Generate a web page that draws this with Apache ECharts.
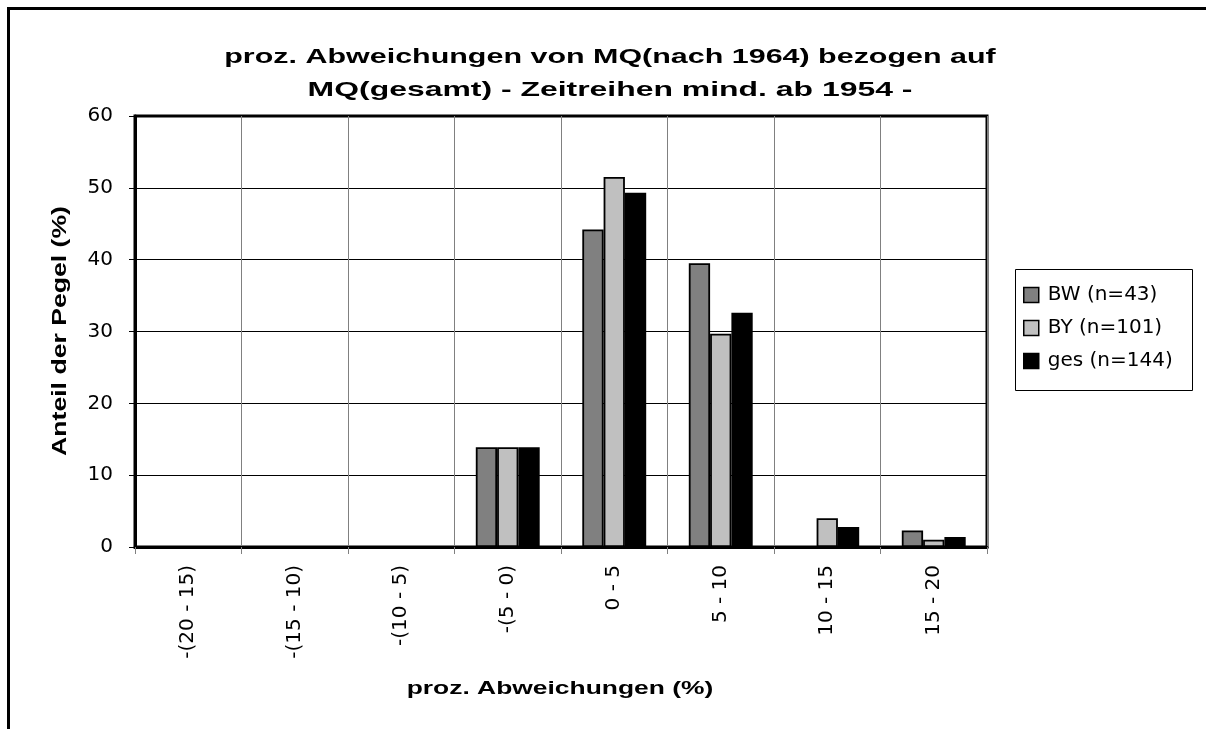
<!DOCTYPE html>
<html>
<head>
<meta charset="utf-8">
<script src="https://cdn.jsdelivr.net/npm/echarts@6/dist/echarts.min.js"></script>
<style>
html,body{margin:0;padding:0;background:#fff;}
#chart{width:1206px;height:729px;}
</style>
</head>
<body>
<div id="chart"></div>
<script>
var categories = ['-(20 - 15)', '-(15 - 10)', '-(10 - 5)', '-(5 - 0)', '0 - 5', '5 - 10', '10 - 15', '15 - 20'];
var seriesNames = ['BW (n=43)', 'BY (n=101)', 'ges (n=144)'];
var valuesBW  = [0, 0, 0, 13.9, 44.2, 39.5, 0, 2.3];
var valuesBY  = [0, 0, 0, 13.9, 51.5, 29.7, 4.0, 1.0];
var valuesGes = [0, 0, 0, 13.9, 49.3, 32.6, 2.8, 1.4];
var yTicks = { min: 0, max: 60, interval: 10 };
var titleLines = ['proz. Abweichungen von MQ(nach 1964) bezogen auf', 'MQ(gesamt) - Zeitreihen mind. ab 1954 -'];
var xAxisName = 'proz. Abweichungen (%)';
var yAxisName = 'Anteil der Pegel (%)';
var colors = ['#808080', '#c0c0c0', '#000000'];

var FONT = '"Liberation Sans", Arial, sans-serif';
var FONT_REG = '"DejaVu Sans", sans-serif';
var chart = echarts.init(document.getElementById('chart'), null, { renderer: 'canvas' });

function barSeries(name, data, color) {
  return {
    name: name,
    type: 'bar',
    data: data,
    barGap: '0%',
    barCategoryGap: '40%',
    itemStyle: { color: color, borderColor: '#000', borderWidth: 1.8 },
    emphasis: { disabled: true },
    animation: false
  };
}

var option = {
  animation: false,
  backgroundColor: '#fff',
  textStyle: { fontFamily: FONT_REG },
  grid: {
    left: 135, right: 219, top: 116, bottom: 182,
    show: true, borderColor: '#000', borderWidth: 3, backgroundColor: '#fff'
  },
  legend: {
    orient: 'vertical',
    left: 1018, top: 279,
    itemWidth: 15, itemHeight: 15, itemGap: 11,
    icon: 'rect',
    selectedMode: false,
    itemStyle: { borderColor: '#000', borderWidth: 1.5 },
    textStyle: { fontSize: 20, color: '#000', fontFamily: FONT_REG, lineHeight: 22, padding: [0, 0, 0, 4] },
    data: seriesNames
  },
  xAxis: {
    type: 'category',
    data: categories,
    boundaryGap: true,
    axisLine: { show: true, lineStyle: { color: '#000', width: 3 } },
    axisTick: { show: true, length: 7, lineStyle: { color: '#808080', width: 1 } },
    axisLabel: { rotate: 90, margin: 18, fontSize: 20, color: '#000', fontFamily: FONT_REG, interval: 0 },
    splitLine: { show: true, lineStyle: { color: '#808080', width: 1 } }
  },
  yAxis: {
    type: 'value',
    min: yTicks.min, max: yTicks.max, interval: yTicks.interval,
    axisLine: { show: true, lineStyle: { color: '#000', width: 3 } },
    axisTick: { show: true, length: 6, lineStyle: { color: '#000', width: 1 } },
    axisLabel: { margin: 22, fontSize: 20, color: '#000', fontFamily: FONT_REG },
    splitLine: { show: true, lineStyle: { color: '#000', width: 1 } }
  },
  series: [
    barSeries(seriesNames[0], valuesBW, colors[0]),
    barSeries(seriesNames[1], valuesBY, colors[1]),
    barSeries(seriesNames[2], valuesGes, colors[2])
  ],
  graphic: [
    { type: 'line', silent: true, z: 100, shape: { x1: 8, y1: 8.5, x2: 1206, y2: 8.5 }, style: { stroke: '#000', lineWidth: 3 } },
    { type: 'line', silent: true, z: 100, shape: { x1: 8.5, y1: 7, x2: 8.5, y2: 729 }, style: { stroke: '#000', lineWidth: 3 } },
    { type: 'rect', silent: true, z: -1, shape: { x: 1015.5, y: 269.5, width: 177, height: 121 }, style: { fill: '#fff', stroke: '#000', lineWidth: 1 } },
    { type: 'text', silent: true, x: 610, y: 57, scaleX: 1.45, style: { text: titleLines[0], font: 'bold 21px ' + FONT, fill: '#000', align: 'center', verticalAlign: 'middle' } },
    { type: 'text', silent: true, x: 610, y: 90, scaleX: 1.52, style: { text: titleLines[1], font: 'bold 21px ' + FONT, fill: '#000', align: 'center', verticalAlign: 'middle' } },
    { type: 'text', silent: true, x: 560, y: 689, scaleX: 1.39, style: { text: xAxisName, font: 'bold 19px ' + FONT, fill: '#000', align: 'center', verticalAlign: 'middle' } },
    { type: 'text', silent: true, x: 60, y: 331, rotation: Math.PI / 2, scaleX: 1.33, style: { text: yAxisName, font: 'bold 20px ' + FONT, fill: '#000', align: 'center', verticalAlign: 'middle' } }
  ]
};
chart.setOption(option);
</script>
</body>
</html>
